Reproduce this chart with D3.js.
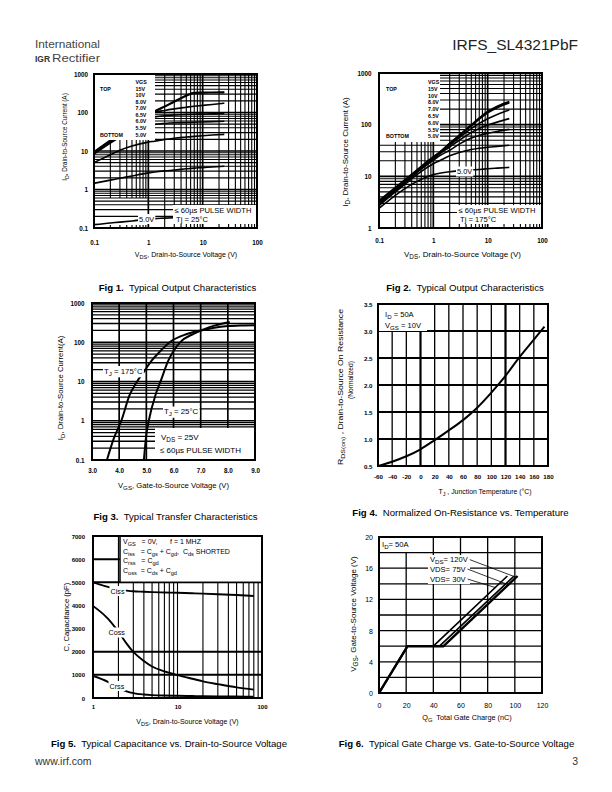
<!DOCTYPE html>
<html>
<head>
<meta charset="utf-8">
<script src="https://cdn.jsdelivr.net/npm/d3@7"></script>
<style>
body { margin: 0; background: #fff; }
</style>
</head>
<body>
<script>
// ---------------- data ----------------

// Fig 1 - output characteristics, Tj = 25C
var fig1Vds = [0.1, 0.2, 0.3, 0.5, 1, 1.3, 2, 3, 5, 7, 10, 15, 25];
var fig1Id15V = [9.5, 19, 28, 45, 85, 108, 145, 195, 280, 330, 333, 335, 338];
var fig1Id10V = [9.2, 18.4, 27, 44, 82, 104, 140, 188, 268, 318, 322, 325, 328];
var fig1Id8V = [9, 18, 26, 43, 79, 100, 113, 124, 137, 146, 153, 162, 175];
var fig1Id7V = [8.7, 17, 25, 40, 68, 76, 82, 86, 89, 90, 91, 92, 94];
var fig1Id65V = [8.3, 16, 23, 35, 46, 49, 52, 54, 55, 56, 57, 58, 59];
var fig1Id6V = [5, 8, 10.5, 13.5, 17, 18, 20, 21.5, 23, 24, 25, 26, 27];
var fig1Id55V = [1.45, 1.75, 1.95, 2.25, 2.7, 2.85, 3.05, 3.2, 3.45, 3.6, 3.7, 3.85, 4.0];
var fig1Id5V = [0.122, 0.135, 0.142, 0.152, 0.17, 0.175, 0.18, 0.185, 0.19, 0.195, 0.2, 0.205, 0.21];

// Fig 2 - output characteristics, Tj = 175C
var fig2Vds = [0.1, 0.2, 0.3, 0.5, 1, 1.3, 2, 3, 5, 7, 10, 15, 25];
var fig2Id15V = [3.4, 6.1, 8.6, 13.4, 24, 29.5, 44, 63, 100, 135, 180, 228, 282];
var fig2Id10V = [3.3, 5.9, 8.4, 13.1, 23.4, 29, 43, 61, 97, 131, 174, 220, 272];
var fig2Id8V = [3.2, 5.8, 8.2, 12.8, 23, 28.5, 42, 60, 95, 128, 170, 212, 262];
var fig2Id7V = [3.1, 5.6, 8.0, 12.5, 22.5, 28, 40, 56, 84, 106, 130, 158, 192];
var fig2Id65V = [3.0, 5.5, 7.8, 12.2, 22, 27, 37, 50, 70, 84, 98, 112, 131];
var fig2Id6V = [2.9, 5.3, 7.5, 11.8, 20.5, 25, 32, 42, 55, 62, 68, 74, 81];
var fig2Id55V = [2.7, 5.0, 7.0, 10.8, 17.5, 20, 25, 29, 33, 35, 36.5, 38, 40];
var fig2Id5V = [2.4, 4.3, 5.8, 8.0, 10.8, 11.5, 12.3, 12.8, 13.3, 13.6, 14, 14.4, 14.9];

var vgsLegend = ["15V", "10V", "8.0V", "7.0V", "6.5V", "6.0V", "5.5V", "5.0V"];

// Fig 3 - transfer characteristics
var fig3Vgs175 = [3.55, 3.8, 4.08, 4.39, 4.66, 4.94, 5.18, 5.5, 5.86, 6.47, 7.0, 7.5, 8.0, 8.5, 9.0];
var fig3Id175 = [0.1, 0.35, 1.0, 4.6, 10, 19, 33, 58, 100, 160, 200, 235, 258, 268, 272];
var fig3Vgs25 = [4.91, 5.0, 5.09, 5.34, 5.52, 5.8, 6.25, 6.72, 7.09, 7.5, 8.07];
var fig3Id25 = [0.1, 0.44, 1.0, 4.6, 9.9, 33, 101, 162, 210, 265, 330];

// Fig 4 - normalized on-resistance
var fig4Temp = [-60, -40, -20, 0, 20, 40, 60, 80, 100, 120, 140, 160, 175];
var fig4Rds = [0.50, 0.58, 0.68, 0.81, 0.98, 1.16, 1.35, 1.58, 1.86, 2.17, 2.52, 2.84, 3.08];

// Fig 5 - capacitance
var fig5Vds = [1, 1.5, 2, 2.5, 3, 4, 5, 7, 10, 15, 20, 30, 50, 80];
var fig5Ciss = [5000, 4800, 4690, 4640, 4610, 4590, 4575, 4560, 4545, 4525, 4510, 4485, 4450, 4410];
var fig5Coss = [3980, 3430, 2860, 2350, 1990, 1600, 1360, 1150, 990, 830, 720, 600, 460, 360];
var fig5Crss = [950, 700, 440, 290, 210, 150, 125, 105, 95, 85, 78, 70, 62, 55];

// Fig 6 - gate charge
var fig6Qg30 = [0, 21, 40, 94.5];
var fig6Vgs30 = [0, 6, 6, 15];
var fig6Qg75 = [0, 21, 44.5, 99.5];
var fig6Vgs75 = [0, 6, 6, 15];
var fig6Qg120 = [0, 21, 47.5, 102];
var fig6Vgs120 = [0, 6, 6, 15];
var fig6Pointers = [[101.5, 14.8], [93.5, 14.0], [86, 13.5]];

// ---------------- drawing ----------------
var FONT = "'Liberation Sans', Arial, Helvetica, sans-serif";
var NB = "\u00a0";

var svg = d3.select("body").append("svg")
    .attr("width", 612)
    .attr("height", 792)
    .attr("font-family", FONT);

// text with _{sub} parts
function rich(t, str, size) {
    var parts = str.split(/(_\{[^}]*\})/);
    var shifted = false;
    parts.forEach(function(p) {
        if (!p) return;
        if (p.indexOf("_{") == 0) {
            t.append("tspan").attr("font-size", size * 0.8).attr("dy", size * 0.3).text(p.slice(2, -1));
            shifted = true;
        } else {
            t.append("tspan").attr("dy", shifted ? -size * 0.3 : null).text(p);
            shifted = false;
        }
    });
}

function addText(parent, x, y, str, o) {
    o = o || {};
    var size = o.size || 7;
    var t = parent.append("text")
        .attr("x", x)
        .attr("y", y)
        .attr("font-size", size)
        .attr("font-weight", o.weight || "normal")
        .attr("text-anchor", o.anchor || "start")
        .attr("fill", o.fill || "#000");
    if (o.rotate) t.attr("transform", "rotate(-90," + x + "," + y + ")");
    rich(t, str, size);
    if (o.length) t.attr("textLength", o.length).attr("lengthAdjust", "spacingAndGlyphs");
    return t;
}

// label sitting on a white patch
function boxed(parent, x, y, str, o, pad) {
    var t = addText(parent, x, y, str, o);
    var bb = t.node().getBBox();
    pad = pad || 1;
    parent.insert("rect", function() { return t.node(); })
        .attr("x", bb.x - pad).attr("y", bb.y - pad * 0.5)
        .attr("width", bb.width + 2 * pad).attr("height", bb.height + pad)
        .attr("fill", "#fff");
    return t;
}

function whiteBox(parent, x0, y0, x1, y1, stroke) {
    return parent.append("rect")
        .attr("x", x0).attr("y", y0)
        .attr("width", x1 - x0).attr("height", y1 - y0)
        .attr("fill", "#fff")
        .attr("stroke", stroke || "none")
        .attr("stroke-width", 1.5);
}

var clipId = 0;
function makePlot(box, x, y) {
    var g = svg.append("g");
    clipId++;
    svg.append("clipPath").attr("id", "clip" + clipId)
        .append("rect")
        .attr("x", box.x0).attr("y", box.y0)
        .attr("width", box.x1 - box.x0).attr("height", box.y1 - box.y0);
    return {
        box: box, x: x, y: y, g: g,
        grid: g.append("g"),
        curves: g.append("g").attr("clip-path", "url(#clip" + clipId + ")"),
        over: g.append("g"),
        frame: g.append("g")
    };
}

function vLines(p, vals, w, y0, y1) {
    p.grid.selectAll(null).data(vals).enter().append("line")
        .attr("x1", function(d) { return p.x(d); })
        .attr("x2", function(d) { return p.x(d); })
        .attr("y1", y0 == null ? p.box.y0 : y0)
        .attr("y2", y1 == null ? p.box.y1 : y1)
        .attr("stroke", "#000")
        .attr("stroke-width", w);
}

function hLines(p, vals, w, x0, x1) {
    p.grid.selectAll(null).data(vals).enter().append("line")
        .attr("y1", function(d) { return p.y(d); })
        .attr("y2", function(d) { return p.y(d); })
        .attr("x1", x0 == null ? p.box.x0 : x0)
        .attr("x2", x1 == null ? p.box.x1 : x1)
        .attr("stroke", "#000")
        .attr("stroke-width", w);
}

function curve(p, xs, ys, w, smooth) {
    var line = d3.line()
        .x(function(d) { return p.x(d[0]); })
        .y(function(d) { return p.y(d[1]); });
    if (smooth) line.curve(d3.curveMonotoneX);
    p.curves.append("path")
        .attr("d", line(xs.map(function(v, i) { return [v, ys[i]]; })))
        .attr("fill", "none")
        .attr("stroke", "#000")
        .attr("stroke-width", w)
        .attr("stroke-linejoin", "round");
}

function axes(p, xt, xl, yt, yl, o) {
    var ax = p.g.append("g")
        .attr("transform", "translate(0," + o.xBase + ")")
        .call(d3.axisBottom(p.x).tickValues(xt).tickFormat(function(d, i) { return xl[i]; }).tickSize(0).tickPadding(0));
    var ay = p.g.append("g")
        .attr("transform", "translate(" + o.yRight + ",0)")
        .call(d3.axisLeft(p.y).tickValues(yt).tickFormat(function(d, i) { return yl[i]; }).tickSize(0).tickPadding(0));
    [ax, ay].forEach(function(a) {
        a.select(".domain").remove();
        a.attr("font-family", FONT).attr("font-size", o.size).attr("font-weight", o.weight || "bold");
        a.selectAll("text").attr("fill", "#000");
    });
    ax.selectAll("text").attr("y", 0).attr("dy", null);
    ay.selectAll("text").attr("x", 0).attr("dy", "0.35em");
}

function frame(p, w) {
    var b = p.box;
    p.frame.append("rect")
        .attr("x", b.x0).attr("y", b.y0)
        .attr("width", b.x1 - b.x0).attr("height", b.y1 - b.y0)
        .attr("fill", "none").attr("stroke", "#000").attr("stroke-width", w || 2);
}

function caption(x, y, num, rest) {
    var t = svg.append("text").attr("x", x).attr("y", y)
        .attr("font-size", 9.6).attr("text-anchor", "middle");
    t.append("tspan").attr("font-weight", "bold").text("Fig " + num + ".");
    t.append("tspan").text(NB + " " + rest);
}

function vgsLegendBlock(p, xLeft, xVal, yTop, step) {
    var o = {size: 5.3, weight: "bold"};
    addText(p.over, xVal, yTop, "VGS", o);
    vgsLegend.forEach(function(s, i) {
        addText(p.over, xVal, yTop + (i + 1) * step, s, o);
    });
    addText(p.over, xLeft, yTop + step, "TOP", o);
    addText(p.over, xLeft, yTop + 8 * step, "BOTTOM", o);
}

// ---------- page header / footer ----------
addText(svg, 35, 48, "International", {size: 11.5, fill: "#444", length: 65});
addText(svg, 35, 62, "IGR", {size: 8.5, weight: "bold", fill: "#333"});
addText(svg, 52, 62, "Rectifier", {size: 11.5, fill: "#444", length: 48});
addText(svg, 578, 50, "IRFS_SL4321PbF", {size: 15.5, anchor: "end", fill: "#222"});
addText(svg, 35, 765, "www.irf.com", {size: 10.5, fill: "#333"});
addText(svg, 578, 765, "3", {size: 10.5, anchor: "end", fill: "#333"});

// ---------- Fig 1 ----------
(function() {
    var box = {x0: 94, x1: 257, y0: 74, y1: 228};
    var p = makePlot(box,
        d3.scaleLog().domain([0.1, 100]).range([box.x0, box.x1]),
        d3.scaleLog().domain([0.1, 1000]).range([box.y1, box.y0]));
    var xt = p.x.ticks(), yt = p.y.ticks();
    var isDecade = function(d) { return Math.abs(Math.log10(d) - Math.round(Math.log10(d))) < 1e-6; };
    // left decade minor lines only reach down to ~0.6 A, then short ticks
    vLines(p, xt.filter(function(d) { return d < 1 && !isDecade(d); }), 1.1, box.y0, p.y(0.6));
    vLines(p, xt.filter(function(d) { return d < 1 && !isDecade(d); }), 1.1, box.y1 - 3, box.y1);
    vLines(p, xt.filter(function(d) { return d > 1 && !isDecade(d); }), 1.1);
    vLines(p, xt.filter(function(d) { return isDecade(d); }), 1.7);
    hLines(p, yt.filter(function(d) { return !isDecade(d); }), 1.1);
    hLines(p, yt.filter(function(d) { return isDecade(d); }), 1.7);

    [fig1Id15V, fig1Id10V, fig1Id8V, fig1Id7V, fig1Id65V, fig1Id6V, fig1Id55V, fig1Id5V].forEach(function(s) {
        curve(p, fig1Vds, s, 1.6, true);
    });

    whiteBox(p.over, box.x0, box.y0, 155, 140);
    vgsLegendBlock(p, 100, 135.5, 84, 6.57);
    whiteBox(p.over, 173, 205, box.x1, 224);
    addText(p.over, 174.5, 213, "\u2264 60\u00b5s PULSE WIDTH", {size: 7.6});
    addText(p.over, 176, 222, "Tj = 25\u00b0C", {size: 7.6});
    boxed(p.over, 139, 221.5, "5.0V", {size: 7.4});

    axes(p, [0.1, 1, 10, 100], ["0.1", "1", "10", "100"],
        [0.1, 1, 10, 100, 1000], ["0.1", "1", "10", "100", "1000"],
        {xBase: 244.5, yRight: 88, size: 6.3});
    addText(svg, 186, 257, "V_{DS}, Drain-to-Source Voltage (V)", {size: 7, anchor: "middle"});
    addText(svg, 67, 137, "I_{D}, Drain-to-Source Current (A)", {size: 6.4, anchor: "middle", rotate: true});
    frame(p, 2);
    caption(177.5, 291, "1", "Typical Output Characteristics");
})();

// ---------- Fig 2 ----------
(function() {
    var box = {x0: 379, x1: 542, y0: 73, y1: 228};
    var p = makePlot(box,
        d3.scaleLog().domain([0.1, 100]).range([box.x0, box.x1]),
        d3.scaleLog().domain([1, 1000]).range([box.y1, box.y0]));
    var isDecade = function(d) { return Math.abs(Math.log10(d) - Math.round(Math.log10(d))) < 1e-6; };
    var xt = p.x.ticks(), yt = p.y.ticks();
    vLines(p, xt.filter(function(d) { return !isDecade(d); }), 1.1);
    vLines(p, xt.filter(isDecade), 1.7);
    hLines(p, yt.filter(function(d) { return !isDecade(d); }), 1.1);
    hLines(p, yt.filter(isDecade), 1.7);

    [fig2Id15V, fig2Id10V, fig2Id8V, fig2Id7V, fig2Id65V, fig2Id6V, fig2Id55V, fig2Id5V].forEach(function(s) {
        curve(p, fig2Vds, s, 1.6, true);
    });

    whiteBox(p.over, box.x0, box.y0, 440, 142);
    vgsLegendBlock(p, 386, 428, 84, 6.8);
    whiteBox(p.over, 457, 205, box.x1, 224);
    addText(p.over, 458.5, 213, "\u2264 60\u00b5s PULSE WIDTH", {size: 7.6});
    addText(p.over, 460, 222, "Tj = 175\u00b0C", {size: 7.6});
    boxed(p.over, 457, 174, "5.0V", {size: 7.4});

    axes(p, [0.1, 1, 10, 100], ["0.1", "1", "10", "100"],
        [1, 10, 100, 1000], ["1", "10", "100", "1000"],
        {xBase: 242.5, yRight: 371.5, size: 6.3});
    addText(svg, 462.5, 257, "V_{DS}, Drain-to-Source Voltage (V)", {size: 8, anchor: "middle"});
    addText(svg, 348, 152, "I_{D}, Drain-to-Source Current (A)", {size: 8, anchor: "middle", rotate: true});
    frame(p, 2);
    caption(465, 291, "2", "Typical Output Characteristics");
})();

// ---------- Fig 3 ----------
(function() {
    var box = {x0: 92, x1: 255, y0: 303, y1: 460};
    var p = makePlot(box,
        d3.scaleLinear().domain([3, 9]).range([box.x0, box.x1]),
        d3.scaleLog().domain([0.1, 1000]).range([box.y1, box.y0]));
    vLines(p, [4, 5, 6, 7, 8], 1.7);
    hLines(p, p.y.ticks().filter(function(d) { return d > 0.1 && d < 1000; }), 1.3);

    curve(p, fig3Vgs175, fig3Id175, 2, true);
    curve(p, fig3Vgs25, fig3Id25, 2, true);

    boxed(p.over, 104, 373.5, "T_{J} = 175\u00b0C", {size: 7.8});
    boxed(p.over, 164, 414, "T_{J} = 25\u00b0C", {size: 7.8});
    whiteBox(p.over, 155, 428, box.x1, 460);
    addText(p.over, 161, 440, "V_{DS} = 25V", {size: 8});
    addText(p.over, 160, 453, "\u2264 60\u00b5s PULSE WIDTH", {size: 8});

    axes(p, [3, 4, 5, 6, 7, 8, 9], ["3.0", "4.0", "5.0", "6.0", "7.0", "8.0", "9.0"],
        [0.1, 1, 10, 100, 1000], ["0.1", "1", "10", "100", "1000"],
        {xBase: 472.5, yRight: 84.5, size: 6.3});
    addText(svg, 173.5, 488, "V_{GS}, Gate-to-Source Voltage (V)", {size: 7.7, anchor: "middle"});
    addText(svg, 63, 388, "I_{D}, Drain-to-Source Current(A)", {size: 7.8, anchor: "middle", rotate: true});
    frame(p, 2);
    caption(175.5, 519.5, "3", "Typical Transfer Characteristics");
})();

// ---------- Fig 4 ----------
(function() {
    var box = {x0: 378, x1: 548, y0: 304, y1: 466};
    var p = makePlot(box,
        d3.scaleLinear().domain([-60, 180]).range([box.x0, box.x1]),
        d3.scaleLinear().domain([0.5, 3.5]).range([box.y1, box.y0]));
    vLines(p, [-40, -20, 20, 40, 60, 80, 100, 140, 160], 1.3);
    vLines(p, [0, 120], 2.2);
    hLines(p, [1.0, 1.5, 2.0, 2.5, 3.0], 2.2);

    curve(p, fig4Temp, fig4Rds, 2, true);

    whiteBox(p.over, box.x0, box.y0, 427, 331);
    addText(p.over, 385, 317, "I_{D} = 50A", {size: 7.6});
    addText(p.over, 385, 328, "V_{GS} = 10V", {size: 7.6});

    var xv = d3.range(-60, 181, 20);
    axes(p, xv, xv.map(String),
        [0.5, 1, 1.5, 2, 2.5, 3, 3.5], ["0.5", "1.0", "1.5", "2.0", "2.5", "3.0", "3.5"],
        {xBase: 479, yRight: 372.5, size: 6.2});
    addText(svg, 485, 494, "T_{J} , Junction Temperature (\u00b0C)", {size: 6.9, anchor: "middle"});
    addText(svg, 342.5, 387, "R_{DS(on)} , Drain-to-Source On Resistance", {size: 7.4, anchor: "middle", rotate: true, length: 156});
    addText(svg, 352.5, 380, "(Normalized)", {size: 6.6, anchor: "middle", rotate: true});
    frame(p, 2);
    caption(460.5, 515.5, "4", "Normalized On-Resistance vs. Temperature");
})();

// ---------- Fig 5 ----------
(function() {
    var box = {x0: 93, x1: 262, y0: 536, y1: 698};
    var p = makePlot(box,
        d3.scaleLog().domain([1, 100]).range([box.x0, box.x1]),
        d3.scaleLinear().domain([0, 7000]).range([box.y1, box.y0]));
    vLines(p, p.x.ticks().filter(function(d) { return d > 1 && d < 100; }), 1.1);
    hLines(p, [1000, 2000, 5000, 6000], 2);

    curve(p, fig5Vds, fig5Ciss, 1.9, true);
    curve(p, fig5Vds, fig5Coss, 1.9, true);
    curve(p, fig5Vds, fig5Crss, 1.9, true);

    whiteBox(p.over, 120, box.y0, box.x1, p.y(5000), "#000");
    var o = {size: 7};
    addText(p.over, 123, 543.5, "V_{GS}" + NB + NB + " = 0V,", o);
    addText(p.over, 170, 543.5, "f = 1 MHZ", o);
    addText(p.over, 123, 553.5, "C_{iss}" + NB + NB + " = C_{gs} + C_{gd}," + NB + " C_{ds} SHORTED", o);
    addText(p.over, 123, 563, "C_{rss}" + NB + NB + " = C_{gd}", o);
    addText(p.over, 123, 572.5, "C_{oss}" + NB + " = C_{ds} + C_{gd}", o);

    boxed(p.over, 110.5, 593.5, "Ciss", {size: 7.2});
    boxed(p.over, 108.5, 635, "Coss", {size: 7.2});
    boxed(p.over, 109.5, 688.5, "Crss", {size: 7.2});

    axes(p, [1, 10, 100], ["1", "10", "100"],
        d3.range(0, 7001, 1000), d3.range(0, 7001, 1000).map(String),
        {xBase: 709, yRight: 85, size: 6});
    addText(svg, 187.5, 724, "V_{DS}, Drain-to-Source Voltage (V)", {size: 7, anchor: "middle"});
    addText(svg, 68.5, 617, "C, Capacitance (pF)", {size: 7.7, anchor: "middle", rotate: true});
    frame(p, 2);
    caption(169, 747, "5", "Typical Capacitance vs. Drain-to-Source Voltage");
})();

// ---------- Fig 6 ----------
(function() {
    var box = {x0: 379, x1: 542, y0: 537, y1: 693};
    var p = makePlot(box,
        d3.scaleLinear().domain([0, 120]).range([box.x0, box.x1]),
        d3.scaleLinear().domain([0, 20]).range([box.y1, box.y0]));
    vLines(p, [20, 40, 60, 80, 100], 1.3);
    hLines(p, d3.range(2, 20, 2), 1.3);

    curve(p, fig6Qg30, fig6Vgs30, 1.7, false);
    curve(p, fig6Qg75, fig6Vgs75, 1.7, false);
    curve(p, fig6Qg120, fig6Vgs120, 2.4, false);

    whiteBox(p.over, box.x0, box.y0, 413, 552);
    addText(p.over, 382, 547, "I_{D}= 50A", {size: 7.6});

    whiteBox(p.over, 428, 555, 470, 584);
    var labels = [
        addText(p.over, 430, 562, "V_{DS}= 120V", {size: 7.6}),
        addText(p.over, 430, 572, "VDS= 75V", {size: 7.6}),
        addText(p.over, 430, 582, "VDS= 30V", {size: 7.6})
    ];
    labels.forEach(function(t, i) {
        var bb = t.node().getBBox();
        p.over.append("line")
            .attr("x1", bb.x + bb.width + 1)
            .attr("y1", bb.y + bb.height * 0.45)
            .attr("x2", p.x(fig6Pointers[i][0]))
            .attr("y2", p.y(fig6Pointers[i][1]))
            .attr("stroke", "#000").attr("stroke-width", 0.8);
    });

    var xv = d3.range(0, 121, 20), yv = d3.range(0, 21, 4);
    axes(p, xv, xv.map(String), yv, yv.map(String),
        {xBase: 707.5, yRight: 373, size: 7, weight: "normal"});
    addText(svg, 467, 719.5, "Q_{G}" + NB + " Total Gate Charge (nC)", {size: 7.3, anchor: "middle"});
    addText(svg, 356, 614, "V_{GS}, Gate-to-Source Voltage (V)", {size: 8, anchor: "middle", rotate: true});
    frame(p, 2);
    caption(456.5, 747, "6", "Typical Gate Charge vs. Gate-to-Source Voltage");
})();
</script>
</body>
</html>
